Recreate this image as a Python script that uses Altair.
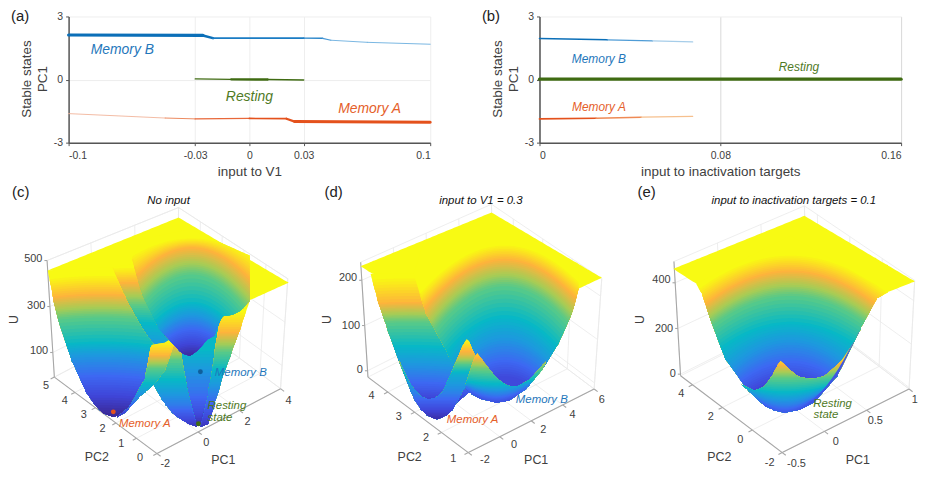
import altair as alt
import numpy as np
import pandas as pd

alt.data_transformers.disable_max_rows()
FONT = "Liberation Sans"
INK = "#404040"
BLUE, ORANGE, GREEN = "#0b6fb8", "#e4511c", "#3f6b12"

# ---------- line panels: x, y, line width, colour of each segment
A_B_X = [-0.1, -0.0257, -0.0202, 0.03, 0.0405, 0.0451, 0.0652, 0.1]
A_B_Y = [2.12, 2.10, 1.97, 1.97, 1.96, 1.87, 1.77, 1.68]
A_B_W = [3.2, 2.6, 2.0, 1.5, 1.2, 1.0, 0.9]
A_B_C = ["#0b6fb8", "#0b6fb8", "#1a7cc4", "#2a86ca", "#4898d6", "#7ab6e2", "#6aaede"]
A_A_X = [-0.1, -0.0466, -0.03, 0.0, 0.0205, 0.025, 0.1]
A_A_Y = [-1.62, -1.83, -1.87, -1.85, -1.86, -2.0, -2.03]
A_A_W = [0.9, 1.0, 1.3, 1.7, 2.2, 3.0]
A_A_C = ["#f2b49a", "#ec8a60", "#e8683a", "#e4511c", "#e4511c", "#e4511c"]
A_R_X = [-0.03, -0.01, 0.01, 0.03]
A_R_Y = [0.03, 0.01, 0.0, -0.02]
A_R_W = [1.2, 2.4, 1.6]
A_R_C = [GREEN, GREEN, GREEN]
B_B_X = [0.0, 0.03, 0.05, 0.0678]
B_B_Y = [1.95, 1.89, 1.84, 1.79]
B_B_W = [1.6, 1.3, 1.1]
B_B_C = ["#0b6fb8", "#4f9cd6", "#a6cde9"]
B_A_X = [0.0, 0.025, 0.045, 0.0678]
B_A_Y = [-1.87, -1.84, -1.79, -1.75]
B_A_W = [1.7, 1.4, 1.2]
B_A_C = ["#e4511c", "#ef8a55", "#f6c08e"]
B_R_X = [0.0, 0.16]
B_R_Y = [0.02, 0.02]
B_R_W = [3.2]
B_R_C = [GREEN]


def segs(x, y, w, c):
    return pd.DataFrame({"x": x[:-1], "x2": x[1:], "y": y[:-1], "y2": y[1:], "w": w, "c": c})


def line_panel(series, xticks, xdom, xtitle, labels, tag, gridcol):
    xs = alt.Scale(domain=xdom, nice=False, zero=False)
    ys = alt.Scale(domain=[-3, 3], nice=False)
    xax = alt.Axis(values=xticks, labelExpr="'' + datum.value", title=xtitle, labelFont=FONT, titleFont=FONT,
                   labelFontSize=10.5, titleFontSize=13.5, labelColor=INK, titleColor=INK, titleFontWeight="normal",
                   domainColor="#555555", domainWidth=1.5, tickColor="#555555", tickSize=3, gridColor=gridcol,
                   titlePadding=4, labelPadding=5, grid=True)
    yax = alt.Axis(values=[-3, 0, 3], labelExpr="'' + datum.value", title=None, labelFont=FONT,
                   labelFontSize=10.5, labelColor=INK,
                   domainColor="#555555", domainWidth=1.5, tickColor="#555555", tickSize=3,
                   gridColor="#eeeeee", labelPadding=3, grid=True)
    base = alt.Chart(pd.DataFrame({"x": [xdom[0]], "y": [0]})).mark_point(opacity=0).encode(
        x=alt.X("x:Q", scale=xs, axis=xax), y=alt.Y("y:Q", scale=ys, axis=yax))
    layers = [base]
    for x, y, w, c in series:
        layers.append(alt.Chart(segs(x, y, w, c)).mark_rule(strokeCap="round").encode(
            x=alt.X("x:Q", scale=xs), x2="x2:Q", y=alt.Y("y:Q", scale=ys), y2="y2:Q",
            color=alt.Color("c:N", scale=None), strokeWidth=alt.StrokeWidth("w:Q", scale=None)))
    for text, x, y, col, size in labels:
        layers.append(alt.Chart(pd.DataFrame({"x": [x], "y": [y], "s": [text]})).mark_text(
            font=FONT, fontSize=size, fontStyle="italic", color=col).encode(
            x=alt.X("x:Q", scale=xs), y=alt.Y("y:Q", scale=ys), text="s:N"))
    layers.append(alt.Chart(pd.DataFrame({"s": [tag]})).mark_text(
        font=FONT, fontSize=15, color="#222222", align="left", baseline="middle").encode(
        x=alt.value(-58), y=alt.value(0), text="s:N"))
    for s, xp in [("Stable states", -42), ("PC1", -26)]:
        layers.append(alt.Chart(pd.DataFrame({"s": [s]})).mark_text(
            font=FONT, fontSize=13.5, color=INK, angle=270, baseline="middle").encode(
            x=alt.value(xp), y=alt.value(63), text="s:N"))
    return alt.layer(*layers).properties(width=364, height=127)


panel_a = line_panel(
    [(A_B_X, A_B_Y, A_B_W, A_B_C), (A_A_X, A_A_Y, A_A_W, A_A_C), (A_R_X, A_R_Y, A_R_W, A_R_C)],
    [-0.1, -0.03, 0, 0.03, 0.1], [-0.1, 0.1], "input to V1",
    [("Memory B", -0.0703, 1.42, "#1f77bb", 14), ("Resting", 0.0, -0.83, "#4f7a1f", 14),
     ("Memory A", 0.0665, -1.39, "#e5602a", 14)], "(a)", "#eeeeee")
panel_b = line_panel(
    [(B_B_X, B_B_Y, B_B_W, B_B_C), (B_A_X, B_A_Y, B_A_W, B_A_C), (B_R_X, B_R_Y, B_R_W, B_R_C)],
    [0, 0.08, 0.16], [0, 0.16], "input to inactivation targets",
    [("Memory B", 0.0263, 0.97, "#1f77bb", 12), ("Memory A", 0.0263, -1.3, "#e5602a", 12),
     ("Resting", 0.1148, 0.59, "#4f7a1f", 12)], "(b)", "#d9d9d9")

# ---------- surface panels
# The surfaces are an approximation: each region of a surface is an outline
# plus the height of its colour contours at the region's centre.  Colour value t: 0 = well floor, 1 = plateau.
RAMP_T = [0, 0.12, 0.25, 0.38, 0.5, 0.62, 0.72, 0.85, 0.95, 1]
RAMP_C = ["#3b2a98", "#3f45d8", "#3d68f2", "#1f96e0", "#07b8c6", "#55c98a", "#a6cc55", "#fdb33c", "#fbe31f", "#f8fa13"]

C_REGIONS = [
    # top outline, bottom outline, contour centre x, contours (t, y at centre, curvature)
    ([(135, 275), (530, 115), (862, 312)], [(135, 275), (330, 290), (530, 400), (700, 385), (745, 365), (862, 312)],
     500, [(1, 0, 0)]),
    ([(330, 265), (545, 235)], [(330, 265), (370, 360), (420, 450), (455, 510), (545, 540)],
     400, [(1, 262, .5), (.85, 310, .5), (.62, 380, .5), (.5, 430, .5), (.38, 500, .5)]),
    ([(527, 400), (655, 400)], [(527, 465), (540, 540), (555, 630), (585, 745), (595, 745), (620, 650), (640, 520), (655, 420)],
     590, [(.5, 510, 0), (.38, 575, 0), (.28, 640, 0), (.15, 700, 0), (.02, 742, 0)]),
    ([(597, 745), (620, 650), (640, 520), (655, 420), (745, 365)], [(597, 747), (620, 738), (640, 675), (660, 605), (690, 522), (720, 440), (745, 365)],
     650, [(1, 395, 0), (.85, 460, 0), (.62, 520, 0), (.48, 580, 0), (.33, 640, 0), (.12, 720, 0), (.05, 745, 0)]),
    ([(455, 620), (490, 540), (527, 465), (540, 540), (555, 630), (585, 745)], [(455, 620), (480, 665), (510, 703), (527, 718), (560, 738), (585, 747)],
     520, [(.95, 470, 0), (.85, 500, 0), (.62, 545, 0), (.48, 610, 0), (.3, 680, 0), (.05, 745, 0)]),
    ([(135, 275), (330, 265), (370, 360), (420, 450), (455, 500)], [(135, 275), (150, 350), (165, 420), (205, 540), (250, 640), (275, 678), (300, 705), (333, 718), (370, 703), (455, 600)],
     300, [(1, 285, .4), (.85, 345, .4), (.62, 415, .4), (.5, 490, .4), (.38, 530, .4), (.25, 590, .4), (.12, 650, .4), (0, 705, .4)]),
    ([(345, 716), (380, 690), (430, 600), (445, 510), (450, 500), (490, 493), (527, 465)], [(345, 718), (370, 703), (410, 658), (455, 620), (490, 575), (527, 465)],
     450, [(1, 485, 0), (.85, 530, 0), (.62, 570, 0), (.48, 620, 0), (.28, 670, 0), (.05, 716, 0)]),
    ([(390, 235), (420, 180), (565, 150), (745, 230)], [(390, 240), (420, 350), (470, 450), (540, 525), (565, 533), (590, 515), (615, 485), (640, 470), (660, 412), (690, 410), (720, 395), (745, 365)],
     570, [(1, 175, 1.5), (.85, 205, 3), (.62, 285, 4), (.5, 370, 4.5), (.38, 410, 5), (.25, 450, 5), (.1, 500, 5), (0, 530, 5)]),
]
D_REGIONS = [
    ([(150, 262), (545, 100), (878, 297)], [(150, 262), (185, 285), (320, 300), (545, 420), (808, 330), (878, 297)],
     500, [(1, 0, 0)]),
    ([(180, 285), (480, 285)], [(180, 285), (200, 360), (230, 450), (270, 560), (310, 660), (330, 692), (350, 712), (380, 725), (480, 640)],
     300, [(1, 290, .3), (.85, 370, .3), (.62, 430, .3), (.5, 500, .3), (.35, 570, .3), (.2, 630, .3), (.08, 668, .3)]),
    ([(310, 285), (340, 190), (545, 110), (808, 262)], [(310, 285), (345, 400), (410, 520), (465, 630), (485, 648), (510, 662), (560, 674), (600, 667), (650, 632), (700, 572), (750, 490), (790, 400), (808, 330)],
     585, [(1, 195, 2.2), (.85, 240, 2.5), (.62, 320, 3), (.5, 410, 3.5), (.38, 480, 4), (.25, 545, 4), (.12, 600, 4)]),
    ([(265, 545), (300, 620), (330, 655), (355, 665), (380, 658), (400, 640), (430, 570), (455, 510), (470, 482), (478, 490), (495, 535), (503, 525)],
     [(265, 545), (310, 660), (330, 692), (350, 712), (380, 725), (410, 712), (430, 692), (465, 625), (495, 545), (503, 525)],
     400, [(1, 482, 0), (.92, 500, 0), (.8, 530, 0), (.6, 560, 0), (.45, 590, 0), (.33, 640, 0), (.18, 680, 0), (.02, 723, 0)]),
    ([(465, 625), (495, 535), (503, 525), (520, 550), (560, 600), (590, 622), (620, 627), (660, 605), (710, 550)],
     [(465, 625), (485, 648), (510, 662), (560, 674), (600, 667), (650, 632), (700, 572), (710, 550)],
     560, [(.9, 530, -.3), (.65, 570, -.3), (.48, 620, -1), (.3, 650, -3), (.15, 672, -4)]),
]
E_REGIONS = [
    ([(176, 270), (572, 110), (905, 308)], [(176, 270), (245, 315), (530, 400), (790, 360), (825, 340), (905, 308)],
     500, [(1, 0, 0)]),
    ([(245, 315), (530, 170), (825, 340)], [(245, 315), (265, 350), (287, 420), (332, 540), (402, 637), (450, 682), (480, 697), (512, 704), (560, 695), (602, 672), (672, 592), (742, 450), (790, 360), (825, 340)],
     530, [(1, 225, 1.3), (.85, 275, 1.5), (.62, 350, 1.6), (.5, 430, 1.7), (.35, 500, 2.6), (.2, 570, 2.5), (.1, 610, 2.5)]),
    ([(382, 620), (422, 638), (452, 625), (477, 590), (492, 560), (500, 548), (522, 570), (552, 595), (592, 603), (632, 595), (682, 550), (722, 490), (738, 458)],
     [(382, 620), (402, 637), (450, 682), (480, 697), (512, 704), (560, 695), (602, 672), (672, 592), (738, 458)],
     512, [(.92, 548, -.2), (.78, 570, -.2), (.62, 600, -.3), (.5, 640, -1), (.32, 680, -3), (.18, 703, -5)]),
]

C_DOTS = [(333, 702, ORANGE), (590, 738, GREEN), (596, 581, "#0f5f9c")]

PC1_C, PC2_C, U_C = [-2, 0, 2, 4], [0, 1, 2, 3, 4, 5], [100, 300, 500]
PC1_D, PC2_D, U_D = [-2, 0, 2, 4, 6], [1, 2, 3, 4], [0, 100, 200]
PC1_E, PC2_E, U_E = [-0.5, 0, 0.5, 1], [-2, 0, 2, 4], [0, 200, 400]

BANDS = 60


def soften(v, n=3):
    pad = np.r_[np.full(n, v[0]), v, np.full(n, v[-1])]
    out = np.convolve(pad, np.ones(n) / n, mode="same")[n:-n]
    out[0], out[-1] = v[0], v[-1]
    return out


def region_rows(regions):
    rows, gid = [], 0
    for top, bot, xc, stops in regions:
        tx, ty = np.array(top, float).T
        bx, by = np.array(bot, float).T
        xs = np.union1d(np.arange(tx.min(), tx.max(), 6.0), np.r_[tx, bx])
        xs = xs[(xs >= tx.min()) & (xs <= tx.max())]
        ytop0, ybot0 = np.interp(xs, tx, ty), np.interp(xs, bx, by)
        ytop, ybot = np.minimum(soften(ytop0), ytop0), soften(ybot0)
        ybot = np.maximum(ybot, ytop)
        st = sorted(stops)
        ts, ys, cs = [np.array(v, float) for v in zip(*st)]
        levels = [ts.max()] + [t for t in np.linspace(1, 0, BANDS + 1) if ts.min() <= t < ts.max()]
        for i, t in enumerate(levels):
            if i == 0:
                arc = ytop
            else:
                arc = np.interp(t, ts, ys) + np.interp(t, ts, cs) * (xs - xc) ** 2 / 1000
            y1 = np.minimum(np.maximum(arc, ytop), ybot)
            if np.all(y1 >= ybot - 1e-6):
                continue
            for a, b, c in zip(xs, y1, ybot):
                rows.append((round(float(a), 1), round(float(b), 1), round(float(c), 1), round(float(t), 3), gid))
            gid += 1
    return pd.DataFrame(rows, columns=["x", "y", "y2", "t", "g"])


def lerp(p, q, f):
    return (p[0] + (q[0] - p[0]) * f, p[1] + (q[1] - p[1]) * f)


def surface_panel(cfg):
    xd0 = cfg["x0"]
    W = cfg["w"]
    xs = alt.Scale(domain=[xd0, xd0 + W * 3], nice=False, zero=False)
    ys = alt.Scale(domain=[870, 0], nice=False, zero=False)
    F, L, R = cfg["F"], cfg["L"], cfg["R"]
    Lt, Bt, Rt = cfg["Lt"], cfg["Bt"], cfg["Rt"]
    B = (L[0] + R[0] - F[0], L[1] + R[1] - F[1])
    grid, axes = [], []
    (a0, a1), (b0, b1), (u0, u1) = cfg["pc1"], cfg["pc2"], cfg["u"]
    for v in cfg["PC1"]:
        f = (v - a0) / (a1 - a0)
        p, q = lerp(F, R, f), lerp(L, B, f)
        r = lerp(Lt, Bt, f)
        grid += [(*p, *q), (*q, *r)]
        tip = (p[0] + (F[0] - L[0]) * 0.035, p[1] + (F[1] - L[1]) * 0.035)
        axes.append((*p, *tip))
    for v in cfg["PC2"]:
        f = (v - b0) / (b1 - b0)
        p, q = lerp(F, L, f), lerp(R, B, f)
        r = lerp(Rt, Bt, f)
        grid += [(*p, *q), (*q, *r)]
        tip = (p[0] + (F[0] - R[0]) * 0.03, p[1] + (F[1] - R[1]) * 0.03)
        axes.append((*p, *tip))
    for v in cfg["U"]:
        f = (v - u0) / (u1 - u0)
        p, q, r = lerp(L, Lt, f), lerp(B, Bt, f), lerp(R, Rt, f)
        grid += [(*p, *q), (*q, *r)]
        axes.append((*p, p[0] - 8, p[1]))
    grid += [(*Lt, *Bt), (*Bt, *Rt), (*B, *Bt), (*R, *Rt), (*L, *B), (*B, *R)]
    axes += [(*L, *F), (*F, *R), (*L, *Lt)]
    cols = ["x", "y", "x2", "y2"]

    def rules(rows, col, w):
        return alt.Chart(pd.DataFrame(rows, columns=cols)).mark_rule(color=col, strokeWidth=w).encode(
            x=alt.X("x:Q", scale=xs, axis=None), y=alt.Y("y:Q", scale=ys, axis=None), x2="x2:Q", y2="y2:Q")

    layers = [rules(grid, "#e9e9e9", 0.8), rules(axes, "#a6a6a6", 1.1)]
    layers.append(alt.Chart(region_rows(cfg["regions"])).mark_area(stroke=None, interpolate="linear", clip=False).encode(
        x=alt.X("x:Q", scale=xs, axis=None), y=alt.Y("y:Q", scale=ys, axis=None), y2="y2:Q",
        detail="g:N",
        color=alt.Color("t:Q", scale=alt.Scale(domain=RAMP_T, range=RAMP_C, interpolate="rgb"), legend=None)))
    if cfg.get("dots"):
        dots = pd.DataFrame(cfg["dots"], columns=["x", "y", "c"])
        layers.append(alt.Chart(dots).mark_circle(size=24, opacity=1).encode(
            x=alt.X("x:Q", scale=xs, axis=None), y=alt.Y("y:Q", scale=ys, axis=None),
            color=alt.Color("c:N", scale=None)))

    def text(s, x, y, size, col, italic=False, angle=0, align="center"):
        kw = dict(fontStyle="italic") if italic else {}
        return alt.Chart(pd.DataFrame({"x": [x], "y": [y], "s": [s]})).mark_text(
            font=FONT, fontSize=size, color=col, angle=angle, align=align, baseline="middle", **kw).encode(
            x=alt.X("x:Q", scale=xs, axis=None), y=alt.Y("y:Q", scale=ys, axis=None), text="s:N")

    def lab(v):
        return format(v, "g")

    for name, vals, rng, (p0, p1) in [("PC1", cfg["PC1"], cfg["pc1_lab_range"], cfg["pc1_lab"]),
                                     ("PC2", cfg["PC2"], cfg["pc2_lab_range"], cfg["pc2_lab"])]:
        for v in vals:
            f = (v - rng[0]) / (rng[1] - rng[0])
            x, y = lerp(p0, p1, f)
            layers.append(text(lab(v), x, y, 11, INK))
    for v, y in zip(cfg["U"], cfg["u_lab_y"]):
        f = (v - u0) / (u1 - u0)
        layers.append(text(lab(v), lerp(L, Lt, f)[0] - 14, y, 11, INK, align="right"))
    for s, x, y in cfg["axis_titles"]:
        layers.append(text(s, x, y, 12.5, INK))
    layers.append(text("U", cfg["U_xy"][0], cfg["U_xy"][1], 12.5, INK, angle=270))
    layers.append(text(cfg["title"], cfg["title_x"], 65, 11.5, "#111111", italic=True))
    layers.append(text(cfg["tag"], cfg["tag_x"], 38, 15, "#222222", align="left"))
    for s, x, y, col in cfg["labels"]:
        layers.append(text(s, x, y, 11.5, col, italic=True))
    return alt.layer(*layers).properties(width=W, height=290)


TA, TB, TR = "#e5602a", "#1f77bb", "#4f7a1f"
panel_c = surface_panel(dict(
    x0=198, w=249, F=(465, 828), L=(155, 597), R=(838, 632), Lt=(133, 245), Bt=(530, 85), Rt=(860, 300),
    pc1=(-2, 4), pc2=(0, 5), u=(-7, 500), PC1=PC1_C, PC2=PC2_C, U=U_C, regions=C_REGIONS, dots=C_DOTS,
    pc1_lab_range=(-2, 4), pc1_lab=((490, 860), (862, 668)), pc2_lab_range=(0, 5), pc2_lab=((414, 842), (130, 625)),
    u_lab_y=[517, 382, 240], axis_titles=[("PC2", 283, 838), ("PC1", 665, 848)], U_xy=(33, 423),
    title="No input", title_x=500, tag="(c)", tag_x=27,
    labels=[("Memory A", 428, 738, TA), ("Memory B", 718, 585, TB), ("Resting", 676, 683, TR), ("state", 655, 720, TR)]))
panel_d = surface_panel(dict(
    x0=15, w=305, F=(475, 825), L=(172, 597), R=(855, 633), Lt=(150, 250), Bt=(545, 75), Rt=(878, 300),
    pc1=(-2, 6), pc2=(1, 4.74), u=(-14, 240), PC1=PC1_D, PC2=PC2_D, U=U_D, regions=D_REGIONS,
    pc1_lab_range=(-2, 6), pc1_lab=((525, 848), (878, 667)), pc2_lab_range=(1, 4), pc2_lab=((430, 843), (183, 654)),
    u_lab_y=[575, 443, 298], axis_titles=[("PC2", 298, 838), ("PC1", 680, 848)], U_xy=(47, 423),
    title="input to V1 = 0.3", title_x=513, tag="(d)", tag_x=41,
    labels=[("Memory A", 488, 727, TA), ("Memory B", 697, 665, TB)]))
panel_e = surface_panel(dict(
    x0=12, w=298, F=(505, 825), L=(198, 593), R=(888, 633), Lt=(178, 248), Bt=(572, 80), Rt=(905, 305),
    pc1=(-0.5, 1), pc2=(-2, 4.8), u=(-7, 493), PC1=PC1_E, PC2=PC2_E, U=U_E, regions=E_REGIONS,
    pc1_lab_range=(-0.5, 1), pc1_lab=((548, 858), (905, 665)), pc2_lab_range=(-2, 4), pc2_lab=((467, 857), (200, 647)),
    u_lab_y=[587, 452, 305], axis_titles=[("PC2", 315, 838), ("PC1", 733, 848)], U_xy=(75, 423),
    title="input to inactivation targets = 0.1", title_x=540, tag="(e)", tag_x=68,
    labels=[("Resting", 657, 677, TR), ("state", 637, 713, TR)]))

top = alt.hconcat(panel_a, panel_b, spacing=110, bounds="flush")
bottom = alt.hconcat(panel_c, panel_d, panel_e, spacing=0, bounds="flush")
chart = alt.vconcat(top, bottom, spacing=164, bounds="flush").resolve_scale(color="independent").configure_view(stroke=None).properties(
    padding=0, background="white")

chart.save("out.html", embed_options={"renderer": "svg", "actions": False})
